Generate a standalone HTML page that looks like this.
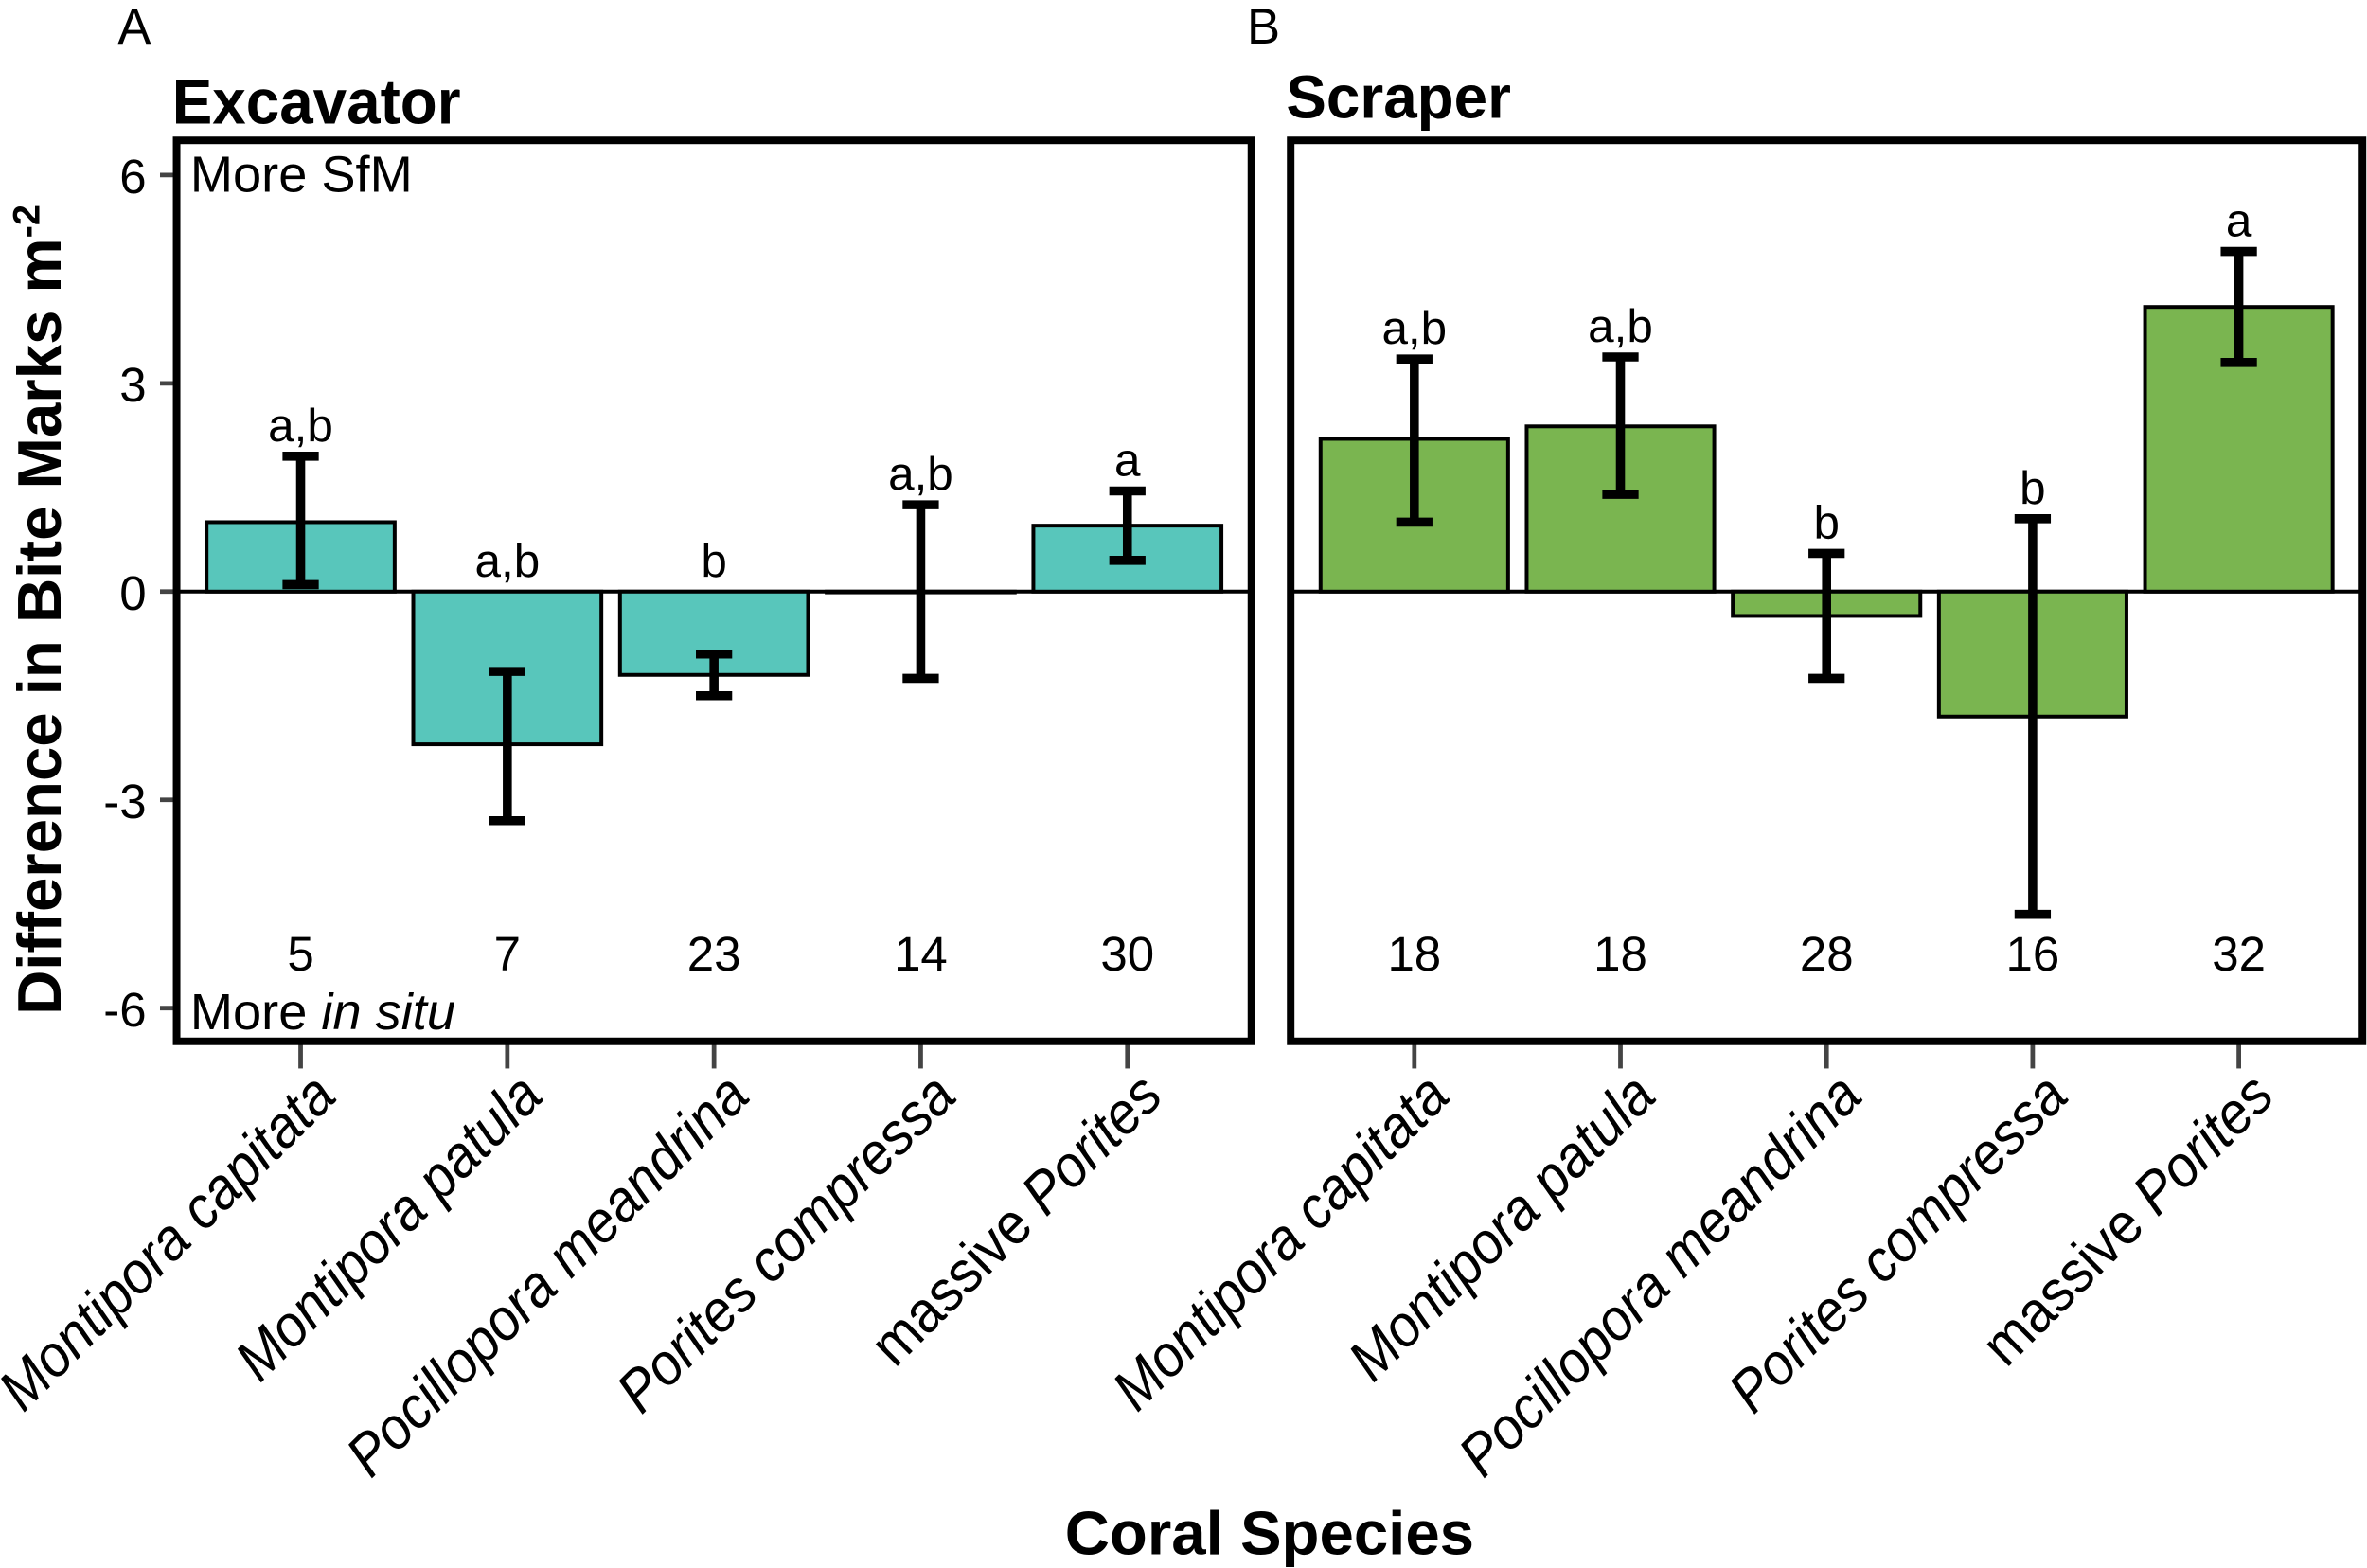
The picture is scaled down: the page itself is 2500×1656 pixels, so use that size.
<!DOCTYPE html>
<html><head><meta charset="utf-8">
<style>
html,body{margin:0;padding:0;background:#fff;}
svg{display:block;font-family:"Liberation Sans",Arial,sans-serif;}
</style></head>
<body>
<svg id="chart" width="2500" height="1656" viewBox="0 0 1568 1039" preserveAspectRatio="none" xmlns="http://www.w3.org/2000/svg">
<rect width="1568" height="1039" fill="#fff"/>
<g id="static">
<text x="78" y="29" font-size="33">A</text>
<text x="826" y="29" font-size="33">B</text>
<text x="114" y="82" font-size="40" font-weight="bold" transform="translate(114,82) scale(1,1.05) translate(-114,-82)">Excavator</text>
<text x="852" y="78" font-size="40" font-weight="bold">Scraper</text>
<text transform="translate(40,404) rotate(-90)" text-anchor="middle" font-size="41" font-weight="bold">Difference in Bite Marks m<tspan dy="-14" font-size="25">-2</tspan></text>
<text x="841" y="1030" text-anchor="middle" font-size="41" font-weight="bold">Coral Species</text>
<text x="126" y="127" font-size="34">More SfM</text>
<text x="126" y="682" font-size="34">More <tspan font-style="italic">in situ</tspan></text>
</g>
<g id="plot"></g>
</svg>
<script>
const categories = ["Montipora capitata","Montipora patula","Pocillopora meandrina","Porites compressa","massive Porites"];
const italicParts = [["Montipora capitata",""],["Montipora patula",""],["Pocillopora meandrina",""],["Porites compressa",""],["","Porites"]];
const excavatorValues = [1.0, -2.2, -1.2, 0.0, 0.95];
const excavatorLow = [0.1, -3.3, -1.5, -1.25, 0.45];
const excavatorHigh = [1.95, -1.15, -0.9, 1.25, 1.45];
const excavatorLetters = ["a,b","a,b","b","a,b","a"];
const excavatorN = ["5","7","23","14","30"];
const scraperValues = [2.2, 2.38, -0.35, -1.8, 4.1];
const scraperLow = [1.0, 1.4, -1.25, -4.65, 3.3];
const scraperHigh = [3.35, 3.38, 0.55, 1.05, 4.9];
const scraperLetters = ["a,b","a,b","b","b","a"];
const scraperN = ["18","18","28","16","32"];
const yTicks = [6, 3, 0, -3, -6];

const NS = "http://www.w3.org/2000/svg";
const plot = document.getElementById("plot");
function mk(tag, attrs, parent){ const e=document.createElementNS(NS,tag); for(const k in attrs) e.setAttribute(k,attrs[k]); (parent||plot).appendChild(e); return e; }
const y = v => 392 - v*46;

function panel(x0, x1, values, lo, hi, letters, ns, color, prefix, showY){
  const step = (x1-x0)/5.2;
  const xc = i => x0 + step*(0.6 + i);
  const bw = step*0.91;
  const zl = mk("line",{x1:x0,x2:x1,y1:y(0),y2:y(0),stroke:"#000","stroke-width":2.5});
  
  
  values.forEach((v,i)=>{
    const r = mk("rect",{x:xc(i)-bw/2,y:Math.min(y(v),y(0)),width:bw,height:Math.max(Math.abs(y(v)-y(0)),0.5),fill:color,stroke:"#000","stroke-width":2.5});
    
    
    const g = mk("g",{stroke:"#000","stroke-width":6});
    
    
    mk("line",{x1:xc(i),x2:xc(i),y1:y(lo[i]),y2:y(hi[i])},g);
    mk("line",{x1:xc(i)-12,x2:xc(i)+12,y1:y(lo[i]),y2:y(lo[i])},g);
    mk("line",{x1:xc(i)-12,x2:xc(i)+12,y1:y(hi[i]),y2:y(hi[i])},g);
    const t = mk("text",{x:xc(i),y:y(Math.max(hi[i],v,0))-10,"text-anchor":"middle","font-size":31});
    t.textContent = letters[i];
    
    
    const n = mk("text",{x:xc(i),y:643,"text-anchor":"middle","font-size":32});
    n.textContent = ns[i];
    
    
    const tk = mk("line",{x1:xc(i),x2:xc(i),y1:692,y2:708,stroke:"#444","stroke-width":3});
    
    
    const lab = mk("text",{transform:`translate(${xc(i)+25},${728}) rotate(-45) scale(0.92,1)`,"text-anchor":"end","font-size":39});
    
    
    const parts = italicParts[i];
    if(parts[1]){ const a=mk("tspan",{},lab); a.textContent="massive "; const b=mk("tspan",{"font-style":"italic"},lab); b.textContent=parts[1]; }
    else { lab.setAttribute("font-style","italic"); lab.textContent = categories[i]; }
  });
  if(showY){
    yTicks.forEach(t=>{
      const l = mk("line",{x1:106,x2:117,y1:y(t),y2:y(t),stroke:"#444","stroke-width":3});
      
      
      const tx = mk("text",{x:97,y:y(t)+12,"text-anchor":"end","font-size":32});
      tx.textContent = String(t);
      
      
    });
  }
  const box = mk("rect",{x:x0,y:93,width:x1-x0,height:597,fill:"none",stroke:"#000","stroke-width":5});
  
  
}
panel(117, 829, excavatorValues, excavatorLow, excavatorHigh, excavatorLetters, excavatorN, "#58c6bb", "excavator", true);
panel(855, 1565, scraperValues, scraperLow, scraperHigh, scraperLetters, scraperN, "#7ab550", "scraper", false);
</script>
</body></html>
